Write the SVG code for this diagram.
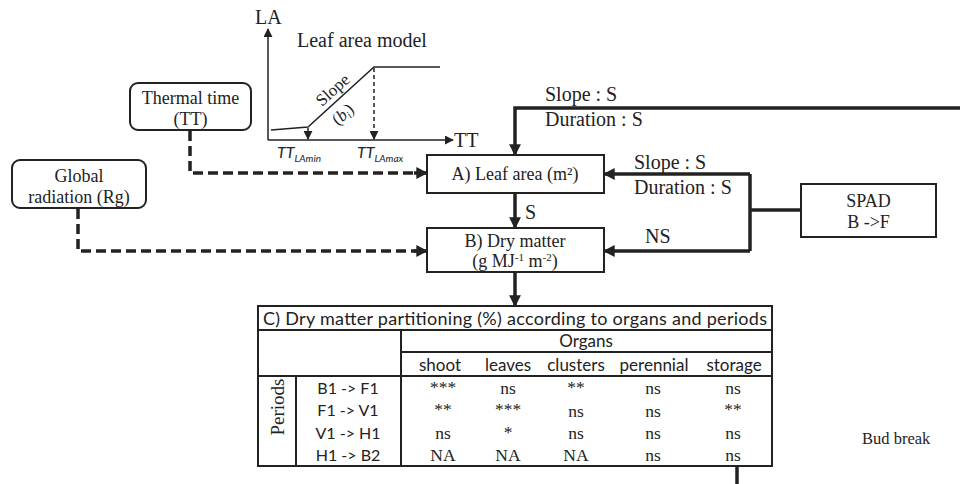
<svg xmlns="http://www.w3.org/2000/svg" width="960" height="484" viewBox="0 0 960 484">
  <style>
    .serif { font-family: "Liberation Serif", "Times New Roman", serif; fill: #222; }
    .sans { font-family: Lato, "Liberation Sans", sans-serif; fill: #222; }
    .box { fill: #fff; stroke: #222; stroke-width: 2; }
    .thick { fill: none; stroke: #222; stroke-width: 3.5; }
    .dash { fill: none; stroke: #222; stroke-width: 3.5; stroke-dasharray: 10 5; }
    .thin { fill: none; stroke: #222; stroke-width: 1.5; }
    .grid { fill: none; stroke: #222; stroke-width: 2; }
  </style>
  <defs>
    <marker id="arrow" viewBox="0 0 10 10" refX="9" refY="5" markerWidth="3.4" markerHeight="3.4" orient="auto" markerUnits="strokeWidth">
      <path d="M0,0 L10,5 L0,10 z" fill="#222"/>
    </marker>
    <marker id="arrowSmall" viewBox="0 0 10 10" refX="9" refY="5" markerWidth="6" markerHeight="6" orient="auto" markerUnits="strokeWidth">
      <path d="M0,0 L10,5 L0,10 z" fill="#222"/>
    </marker>
  </defs>

  <!-- Leaf area model inset -->
  <g id="leaf-area-model">
    <line class="thin" x1="268" y1="140" x2="268" y2="29" marker-end="url(#arrowSmall)"/>
    <line class="thin" x1="268" y1="140" x2="453" y2="140" marker-end="url(#arrowSmall)"/>
    <text class="serif" x="255" y="24" font-size="20">LA</text>
    <text class="serif" x="454" y="147" font-size="20">TT</text>
    <text class="serif" x="297" y="47" font-size="20">Leaf area model</text>
    <polyline class="thin" points="271,130 308,127 374,67 440,67"/>
    <line class="thin" x1="308" y1="128" x2="308" y2="139" marker-end="url(#arrowSmall)"/>
    <line class="thin" x1="374" y1="68" x2="374" y2="139" stroke-dasharray="4 3" marker-end="url(#arrowSmall)"/>
    <text class="serif" font-size="17" transform="translate(322,107) rotate(-42)">Slope</text>
    <text class="serif" font-size="17" transform="translate(338,126) rotate(-42)">(<tspan font-style="italic">b</tspan><tspan font-style="italic" font-size="11" dy="3">i</tspan><tspan dy="-3">)</tspan></text>
    <text class="sans" x="277" y="158" font-size="16" font-style="italic">TT<tspan font-size="10" dy="4">LAmin</tspan></text>
    <text class="sans" x="357" y="158" font-size="16" font-style="italic">TT<tspan font-size="10" dy="4">LAmax</tspan></text>
  </g>

  <!-- Input nodes -->
  <g id="thermal-time">
    <rect class="box" x="130" y="83" width="121" height="47" rx="8"/>
    <text class="serif" x="190.5" y="104" font-size="18" text-anchor="middle">Thermal time</text>
    <text class="serif" x="190.5" y="125" font-size="18" text-anchor="middle">(TT)</text>
  </g>
  <g id="global-radiation">
    <rect class="box" x="12" y="160" width="134" height="48" rx="8"/>
    <text class="serif" x="79" y="182" font-size="18" text-anchor="middle">Global</text>
    <text class="serif" x="79" y="203" font-size="18" text-anchor="middle">radiation (Rg)</text>
  </g>

  <!-- Model nodes -->
  <g id="leaf-area">
    <rect class="box" x="427" y="155" width="177" height="38"/>
    <text class="serif" x="515" y="180" font-size="18" text-anchor="middle">A) Leaf area (m²)</text>
  </g>
  <g id="dry-matter">
    <rect class="box" x="427" y="228" width="177" height="44"/>
    <text class="serif" x="515" y="247" font-size="18" text-anchor="middle">B) Dry matter</text>
    <text class="serif" x="515" y="267" font-size="18" text-anchor="middle">(g MJ<tspan font-size="11" dy="-6">-1</tspan><tspan dy="6"> m</tspan><tspan font-size="11" dy="-6">-2</tspan><tspan dy="6">)</tspan></text>
  </g>
  <g id="spad">
    <rect class="box" x="801" y="184" width="135" height="53"/>
    <text class="serif" x="868.5" y="207" font-size="18" text-anchor="middle">SPAD</text>
    <text class="serif" x="868.5" y="228" font-size="18" text-anchor="middle">B -&gt;F</text>
  </g>

  <!-- Partitioning table -->
  <g id="partitioning">
    <rect class="grid" x="258" y="306" width="514" height="160" fill="#fff"/>
    <line class="grid" x1="258" y1="330" x2="772" y2="330"/>
    <line class="grid" x1="401" y1="352" x2="772" y2="352"/>
    <line class="grid" x1="258" y1="376" x2="772" y2="376"/>
    <line class="grid" x1="401" y1="330" x2="401" y2="466"/>
    <line class="grid" x1="296" y1="376" x2="296" y2="466"/>
    <text class="sans" x="263" y="325" font-size="18" textLength="504">C) Dry matter partitioning (%) according to organs and periods</text>
    <text class="sans" x="586" y="347" font-size="17" text-anchor="middle">Organs</text>
    <g class="sans" font-size="17" text-anchor="middle">
      <text x="440" y="371">shoot</text>
      <text x="508" y="371">leaves</text>
      <text x="576" y="371">clusters</text>
      <text x="654" y="371">perennial</text>
      <text x="734" y="371">storage</text>
    </g>
    <g class="sans" font-size="16" text-anchor="middle">
      <text x="348" y="394">B1 -&gt; F1</text>
      <text x="348" y="416">F1 -&gt; V1</text>
      <text x="348" y="439">V1 -&gt; H1</text>
      <text x="348" y="461">H1 -&gt; B2</text>
    </g>
    <text class="serif" font-size="19" text-anchor="middle" transform="translate(284,407) rotate(-90)">Periods</text>
    <g class="serif" font-size="17.5" text-anchor="middle" fill="#555">
      <text x="443" y="393">***</text>
      <text x="576" y="393">**</text>
      <text x="443" y="415">**</text>
      <text x="508" y="415">***</text>
      <text x="733" y="415">**</text>
      <text x="508" y="438">*</text>
    </g>
    <g class="serif" font-size="17.5" text-anchor="middle">
      <text x="508" y="394">ns</text>
      <text x="653" y="394">ns</text>
      <text x="733" y="394">ns</text>
      <text x="576" y="417">ns</text>
      <text x="653" y="417">ns</text>
      <text x="443" y="439">ns</text>
      <text x="576" y="439">ns</text>
      <text x="653" y="439">ns</text>
      <text x="733" y="439">ns</text>
      <text x="443" y="461">NA</text>
      <text x="508" y="461">NA</text>
      <text x="576" y="461">NA</text>
      <text x="653" y="461">ns</text>
      <text x="733" y="461">ns</text>
    </g>
  </g>

  <!-- Bud break label -->
  <text class="serif" x="862" y="444" font-size="16.5">Bud break</text>

  <!-- Connectors -->
  <g id="connectors">
    <polyline class="dash" points="190,131 190,173 416,173"/>
    <line class="thick" x1="414" y1="173" x2="427" y2="173" marker-end="url(#arrow)"/>
    <polyline class="dash" points="78,209 78,251 416,251"/>
    <line class="thick" x1="414" y1="251" x2="427" y2="251" marker-end="url(#arrow)"/>

    <polyline class="thick" points="960,108 515,108 515,155" marker-end="url(#arrow)"/>
    <text class="serif" x="545" y="101" font-size="20">Slope : S</text>
    <text class="serif" x="545" y="126" font-size="20">Duration : S</text>

    <line class="thick" x1="515" y1="193" x2="515" y2="228" marker-end="url(#arrow)"/>
    <text class="serif" x="525" y="219" font-size="20">S</text>

    <polyline class="thick" points="750,174 750,251"/>
    <line class="thick" x1="750" y1="174" x2="604" y2="174" marker-end="url(#arrow)"/>
    <line class="thick" x1="750" y1="251" x2="604" y2="251" marker-end="url(#arrow)"/>
    <line class="thick" x1="750" y1="210" x2="801" y2="210"/>
    <text class="serif" x="634" y="169" font-size="20">Slope : S</text>
    <text class="serif" x="634" y="194" font-size="20">Duration : S</text>
    <text class="serif" x="645" y="243" font-size="20">NS</text>

    <line class="thick" x1="515" y1="272" x2="515" y2="306" marker-end="url(#arrow)"/>
    <line class="thick" x1="737" y1="466" x2="737" y2="484"/>
  </g>
</svg>
